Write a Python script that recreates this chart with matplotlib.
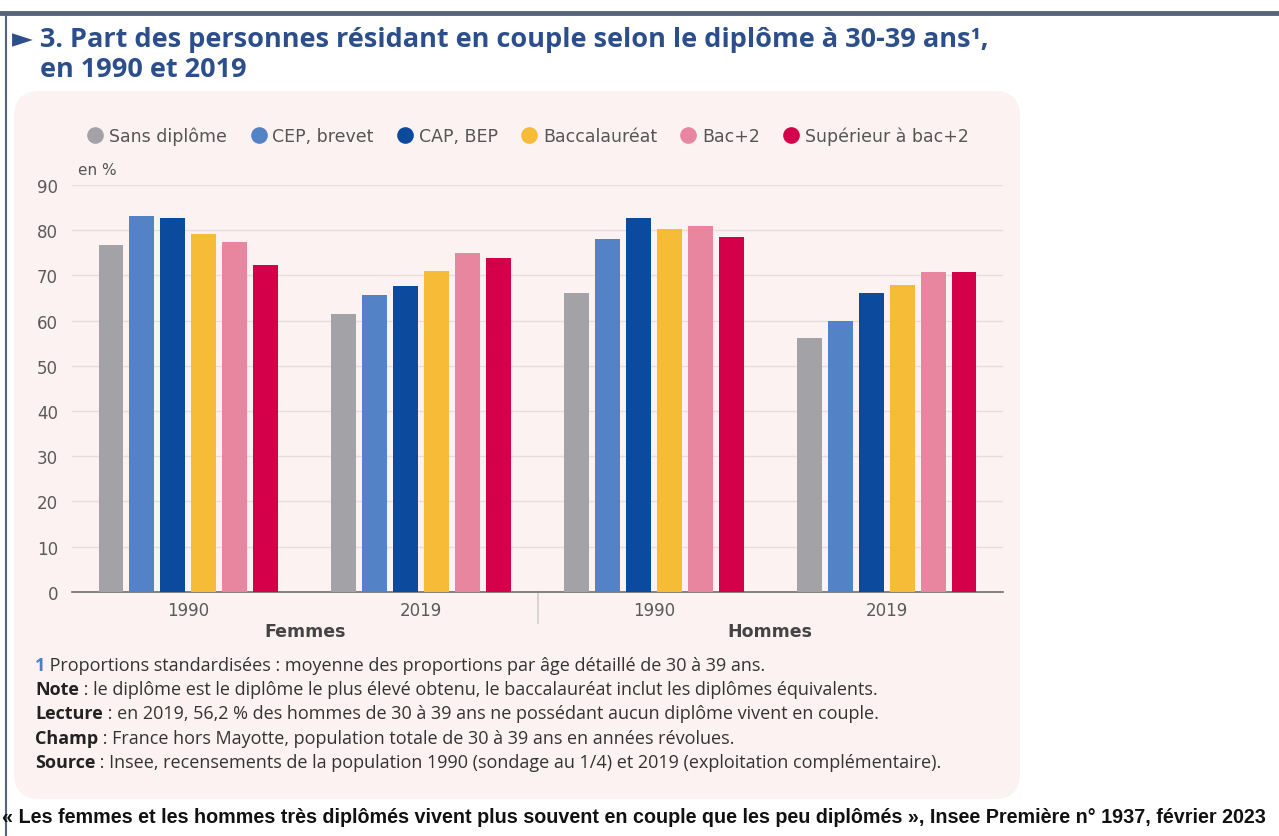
import numpy as np
import matplotlib

matplotlib.use("Agg")
import matplotlib.pyplot as plt
from matplotlib.patches import FancyBboxPatch
from matplotlib.lines import Line2D

# Share of people living as a couple, by diploma, aged 30-39
groups = ["1990", "2019", "1990", "2019"]
sexes = ["Femmes", "Hommes"]
diplomas = ["Sans diplôme", "CEP, brevet", "CAP, BEP", "Baccalauréat", "Bac+2", "Supérieur à bac+2"]
sans_diplome = [76.8, 61.4, 66.2, 56.2]
cep_brevet = [83.2, 65.6, 78.0, 59.8]
cap_bep = [82.6, 67.6, 82.6, 66.2]
baccalaureat = [79.1, 70.9, 80.2, 67.9]
bac2 = [77.3, 74.9, 80.9, 70.8]
superieur = [72.2, 73.9, 78.6, 70.8]

series = [sans_diplome, cep_brevet, cap_bep, baccalaureat, bac2, superieur]
colors = ["#a2a2a7", "#5383c6", "#0c4a9e", "#f6bc38", "#e8859f", "#d5004a"]

TITLE_BLUE = "#2c4f8c"
PANEL = "#fcf2f2"
FONTS = ["Open Sans", "DejaVu Sans"]

fig = plt.figure(figsize=(12.79, 8.37), dpi=100)
fig.patch.set_facecolor("white")

W, H = 1279, 837


def fx(px):
    return px / W


def fy(py):
    return 1 - py / H


# frame lines at top and left
fig.add_artist(Line2D([0, 1], [fy(14), fy(14)], color="#56647a", lw=3.5))
fig.add_artist(Line2D([fx(6), fx(6)], [fy(14), fy(837)], color="#56647a", lw=1.5))

# background panel
panel = FancyBboxPatch((fx(14), fy(800)), fx(1020 - 14), fy(92) - fy(800),
                       boxstyle="round,pad=0,rounding_size=0.02",
                       transform=fig.transFigure, facecolor=PANEL, edgecolor="none",
                       mutation_aspect=W / H, zorder=0)
fig.add_artist(panel)

fig.text(fx(12), fy(40), "► 3. Part des personnes résidant en couple selon le diplôme à 30-39 ans¹,",
         fontsize=19.5, fontweight="bold", color=TITLE_BLUE, family=FONTS,
         va="center", ha="left")
fig.text(fx(40), fy(70), "en 1990 et 2019",
         fontsize=19.5, fontweight="bold", color=TITLE_BLUE, family=FONTS,
         va="center", ha="left")

ax = fig.add_axes([fx(72), fy(592.7), fx(1003 - 72), fy(186) - fy(592.7)])
ax.set_facecolor("none")

x = np.arange(len(groups))
n = len(series)
step = 0.133
width = 0.107
for i, (vals, col, lab) in enumerate(zip(series, colors, diplomas)):
    ax.bar(x + (i - (n - 1) / 2) * step, vals, width=width, color=col, label=lab, zorder=3)

ax.set_xlim(-0.5, 3.5)
ax.set_ylim(0, 90)
ax.set_yticks(np.arange(0, 91, 10))
ax.yaxis.grid(True, color="#eadcdc", lw=1.0, zorder=0)
ax.set_axisbelow(True)
for side in ["top", "right", "left"]:
    ax.spines[side].set_visible(False)
ax.spines["bottom"].set_color("#6e6e6e")
ax.spines["bottom"].set_linewidth(1.2)
ax.tick_params(axis="y", length=0, labelsize=12, labelcolor="#5a5a5a", pad=10)
ax.tick_params(axis="x", length=0, labelsize=12, labelcolor="#5a5a5a", pad=7)
ax.set_xticks(x)
ax.set_xticklabels(groups)

# separator between the two sexes
ax.plot([1.5, 1.5], [0, -7], color="#cfcfcf", lw=1.2, clip_on=False, zorder=2)
for k, sex in enumerate(sexes):
    ax.text(0.5 + 2 * k, -8.8, sex, ha="center", va="center", fontsize=12.5,
            fontweight="semibold", color="#444444", transform=ax.transData)

ax.text(-0.475, 93.5, "en %", fontsize=11, color="#555555", ha="left", va="center")

handles = [Line2D([], [], marker="o", linestyle="none", markersize=12, markerfacecolor=c,
                  markeredgecolor="none") for c in colors]
fig.legend(handles, diplomas, loc="center", bbox_to_anchor=(fx(528), fy(137)), ncol=6,
           frameon=False, fontsize=12.5, handletextpad=0.3, columnspacing=1.3,
           labelcolor="#555555", handlelength=1.0)

notes = [
    ("1", " Proportions standardisées : moyenne des proportions par âge détaillé de 30 à 39 ans."),
    ("Note", " : le diplôme est le diplôme le plus élevé obtenu, le baccalauréat inclut les diplômes équivalents."),
    ("Lecture", " : en 2019, 56,2 % des hommes de 30 à 39 ans ne possédant aucun diplôme vivent en couple."),
    ("Champ", " : France hors Mayotte, population totale de 30 à 39 ans en années révolues."),
    ("Source", " : Insee, recensements de la population 1990 (sondage au 1/4) et 2019 (exploitation complémentaire)."),
]
y0 = 666
renderer = fig.canvas.get_renderer()
for j, (head, body) in enumerate(notes):
    ypos = fy(y0 + j * 24.2)
    hcol = "#4f7fc4" if head == "1" else "#222222"
    t = fig.text(fx(35), ypos, head, fontsize=13, fontweight="bold", color=hcol,
                 family=FONTS, va="center", ha="left")
    bb = t.get_window_extent(renderer=renderer)
    fig.text(bb.x1 / fig.dpi / fig.get_figwidth(), ypos, body, fontsize=13, color="#333333",
             family=FONTS, va="center", ha="left")

cite = fig.text(fx(2), fy(818),
                "« Les femmes et les hommes très diplômés vivent plus souvent en couple que les peu diplômés », "
                "Insee Première n° 1937, février 2023",
                fontsize=15, fontweight="bold", color="#111111",
                family=["Liberation Sans", "DejaVu Sans"], va="center", ha="left")
# shrink the citation line so it spans the full width
cw = cite.get_window_extent(renderer=renderer).width
cite.set_fontsize(15 * 1272 / cw)

fig.savefig("out.png", dpi=100)
